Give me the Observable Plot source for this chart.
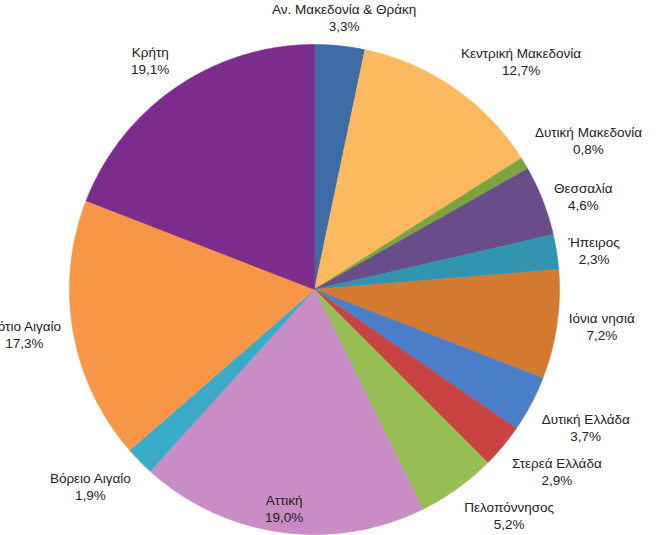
<!DOCTYPE html>
<html>
<head>
<meta charset="utf-8">
<script src="https://cdn.jsdelivr.net/npm/d3@7"></script>
<script src="https://cdn.jsdelivr.net/npm/@observablehq/plot@0.6"></script>
<style>
  html, body { margin: 0; padding: 0; background: #fff; }
  #chart { width: 656px; height: 535px; overflow: hidden; }
</style>
</head>
<body>
<div id="chart"></div>
<script>
// ---- data ----
const regions = [
  "Αν. Μακεδονία & Θράκη", "Κεντρική Μακεδονία", "Δυτική Μακεδονία", "Θεσσαλία",
  "Ήπειρος", "Ιόνια νησιά", "Δυτική Ελλάδα", "Στερεά Ελλάδα", "Πελοπόννησος",
  "Αττική", "Βόρειο Αιγαίο", "Νότιο Αιγαίο", "Κρήτη"
];
const shares = [3.3, 12.7, 0.8, 4.6, 2.3, 7.2, 3.7, 2.9, 5.2, 19.0, 1.9, 17.3, 19.1];
const colors = [
  "#3d6ba6", "#fdb960", "#7da53f", "#684d8a", "#3394b0", "#d37a30", "#4a7ec8",
  "#c84341", "#96be55", "#c78dc4", "#3aacc8", "#f69646", "#7c2d8c"
];

// ---- layout ----
const W = 656, H = 535;
const CX = 314, CY = 289, R = 245;
const FS = 13.5;
const FONT = FS + "px 'Liberation Sans', Arial, sans-serif";
const LINE = 17;

const fmt = v => d3.format(".1f")(v).replace(".", ",") + "%";
const arcs = d3.pie().sort(null).value(d => d)(shares);

// slice polygons (data units: radius = 1, y up)
const slicePts = [];
arcs.forEach((a, i) => {
  const name = regions[i];
  slicePts.push({name, x: 0, y: 0});
  const n = Math.max(2, Math.ceil((a.endAngle - a.startAngle) / 0.005));
  for (let k = 0; k <= n; k++) {
    const t = a.startAngle + (a.endAngle - a.startAngle) * k / n;
    slicePts.push({name, x: Math.sin(t), y: Math.cos(t)});
  }
});

// label placement (outside end, like a spreadsheet "best fit")
const ctx = document.createElement("canvas").getContext("2d");
ctx.font = FONT;
const gap = 12;
const clamp = (v, a, b) => Math.max(a, Math.min(b, v));
const labels = arcs.map((a, i) => {
  const th = (a.startAngle + a.endAngle) / 2;
  const s = Math.sin(th), c = Math.cos(th);
  const l1 = regions[i], l2 = fmt(shares[i]);
  const w = Math.max(ctx.measureText(l1).width, ctx.measureText(l2).width);
  const h = 2 * LINE;
  const px = (R + gap) * s, py = -(R + gap) * c; // screen offsets from centre
  let cx = px + Math.sign(s) * (w / 2) * Math.pow(Math.min(1, Math.abs(s) * 2), 2);
  let cy = py - Math.sign(c) * (h / 2) * clamp((Math.abs(c) - 0.38) / 0.08, 0, 1);
  if (CY + cy + h / 2 > H) { // no room outside: put inside the slice
    cx = 0.9 * R * s; cy = -0.9 * R * c;
  }
  return {name: l1, text: l1 + "\n" + l2, x: cx / R, y: -cy / R};
});

const chart = Plot.plot({
  width: W, height: H, margin: 0,
  style: {fontFamily: "'Liberation Sans', Arial, sans-serif", background: "#fff"},
  x: {domain: [-CX / R, (W - CX) / R], axis: null},
  y: {domain: [-(H - CY) / R, CY / R], axis: null},
  color: {type: "ordinal", domain: regions, range: colors},
  marks: [
    Plot.line(slicePts, {
      x: "x", y: "y", z: "name", fill: "name", stroke: "name",
      strokeWidth: 0.6, curve: "linear-closed"
    }),
    Plot.text(labels, {
      x: "x", y: "y", text: "text", fontSize: FS, lineHeight: LINE / FS,
      textAnchor: "middle", lineAnchor: "middle", fill: "#222"
    })
  ]
});
document.getElementById("chart").appendChild(chart);
</script>
</body>
</html>
